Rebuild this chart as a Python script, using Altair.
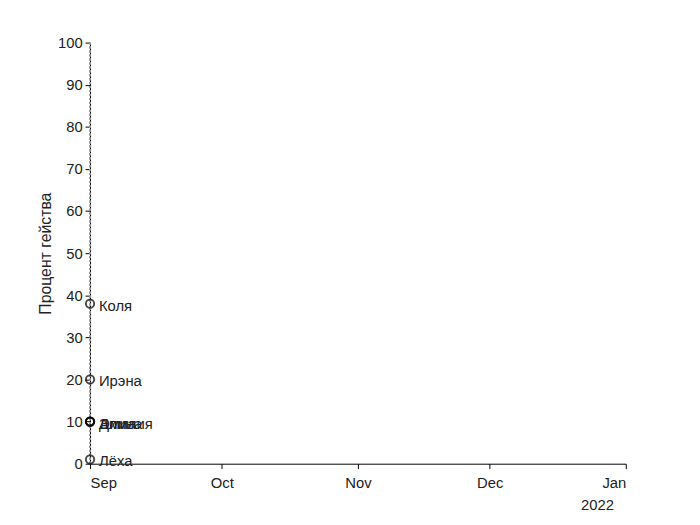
import pandas as pd
import altair as alt

names = ["Коля", "Ирэна", "Дима", "Эмилия", "Алина", "Лёха"]
values = [38, 20, 10, 10, 10, 1]
dates = ["2021-09-01"] * len(names)

df = pd.DataFrame({"date": dates, "name": names, "value": values})

x = alt.X("date:T", title=None,
          scale=alt.Scale(domain=["2021-09-01", "2022-01-01"]),
          axis=alt.Axis(format="%b", tickCount="month", grid=False, labelPadding=7))
y = alt.Y("value:Q", title="Процент гейства",
          scale=alt.Scale(domain=[0, 100]),
          axis=alt.Axis(values=list(range(0, 101, 10)), grid=False, labelPadding=3))

trail = alt.Chart(df).mark_rule(color="#999999", strokeDash=[2, 2]).encode(
    x=x, y=alt.value(0), y2=alt.value(426))
points = alt.Chart(df).mark_point(shape="circle", filled=False, color="black", size=70).encode(x=x, y=y)
labels = alt.Chart(df).mark_text(align="left", dx=9, dy=2, fontSize=15, color="#222222",
                                 font="Liberation Sans").encode(x=x, y=y, text="name:N")
year = alt.Chart(pd.DataFrame({"date": ["2022-01-01"], "t": ["2022"]})).mark_text(
    fontSize=15, font="Liberation Sans", color="#222222", align="right", dx=-12).encode(
    x=x, y=alt.value(468), text="t:N")

chart = (trail + points + labels + year).properties(
    width=542, height=426,
    autosize=alt.AutoSizeParams(type="none"),
    padding={"left": 83, "top": 32, "right": 67, "bottom": 59},
).configure_view(stroke=None).configure_axis(
    domainColor="black", tickColor="black", labelColor="#222222", titleColor="#222222",
    labelFont="Liberation Sans", titleFont="Liberation Sans",
    labelFontSize=15, titleFontSize=16, titleFontWeight="normal", tickSize=5,
)

chart.save("out.html", embed_options={"renderer": "svg", "actions": False})
